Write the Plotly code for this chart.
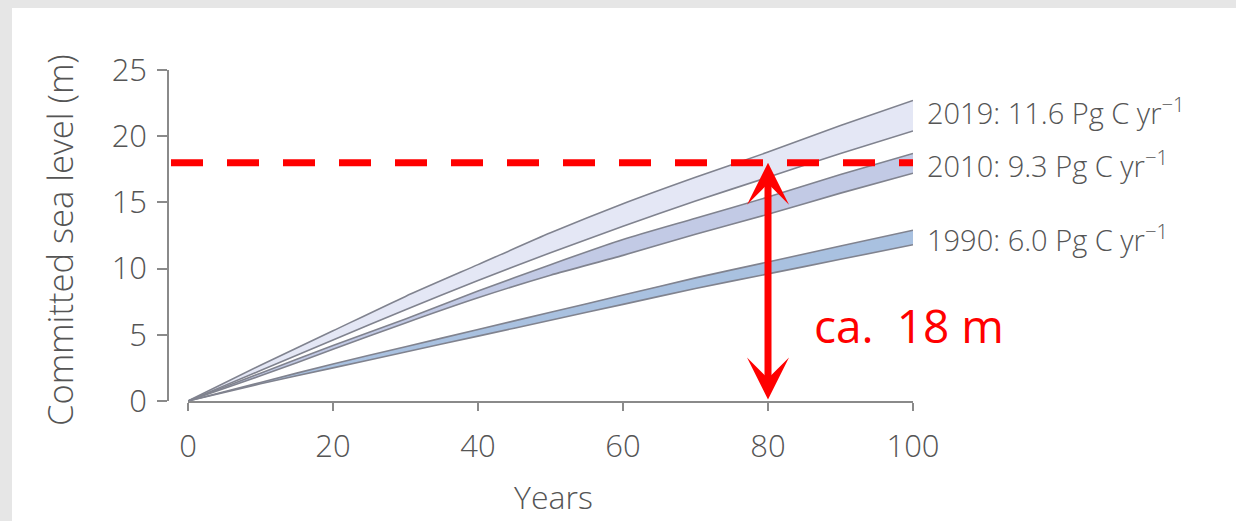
import plotly.graph_objects as go

# ---- data ----
years = [0, 10, 20, 30, 40, 50, 60, 70, 80, 90, 100]
s2019_upper = [0, 2.7, 5.3, 7.9, 10.3, 12.7, 14.9, 16.9, 18.8, 20.8, 22.7]
s2019_lower = [0, 2.3, 4.6, 6.9, 9.1, 11.2, 13.2, 15.1, 16.9, 18.7, 20.4]
s2010_upper = [0, 2.1, 4.2, 6.2, 8.3, 10.3, 12.2, 13.8, 15.4, 17.1, 18.7]
s2010_lower = [0, 1.9, 3.9, 5.9, 7.8, 9.5, 11.0, 12.6, 14.1, 15.7, 17.2]
s1990_upper = [0, 1.4, 2.8, 4.1, 5.4, 6.7, 8.0, 9.3, 10.5, 11.7, 12.9]
s1990_lower = [0, 1.3, 2.5, 3.7, 4.9, 6.1, 7.3, 8.5, 9.6, 10.7, 11.8]

band_labels = ["2019: 11.6 Pg C yr<sup>\u22121</sup>",
               "2010: 9.3 Pg C yr<sup>\u22121</sup>",
               "1990: 6.0 Pg C yr<sup>\u22121</sup>"]
band_label_y = [21.9, 17.9, 12.3]

threshold = 18
arrow_year = 80
x_ticks = [0, 20, 40, 60, 80, 100]
y_ticks = [0, 5, 10, 15, 20, 25]

# ---- figure ----
fig = go.Figure()
edge = "#80838f"
bands = [
    (s2019_upper, s2019_lower, "#e4e7f5"),
    (s2010_upper, s2010_lower, "#c2cae5"),
    (s1990_upper, s1990_lower, "#a9c1e0"),
]
for up, lo, fill in bands:
    fig.add_trace(go.Scatter(x=years, y=lo, mode="lines",
                             line=dict(color=edge, width=1.6, shape="spline", smoothing=0.6),
                             showlegend=False, hoverinfo="skip"))
    fig.add_trace(go.Scatter(x=years, y=up, mode="lines",
                             line=dict(color=edge, width=1.6, shape="spline", smoothing=0.6),
                             fill="tonexty", fillcolor=fill, showlegend=False, hoverinfo="skip"))

W, H = 1236, 521
L, R, T, B = 168, 323, 70, 120
pw = W - L - R
ph = H - T - B

def px_to_paper_x(px):
    return (px - L) / pw

def px_to_paper_y(py):
    return (H - B - py) / ph

tick_font = dict(family="Open Sans", size=31, color="#555555", weight=300)

fig.update_layout(
    width=W, height=H,
    margin=dict(l=L, r=R, t=T, b=B),
    paper_bgcolor="#e6e6e6",
    plot_bgcolor="rgba(0,0,0,0)",
    showlegend=False,
    xaxis=dict(domain=[px_to_paper_x(188), 1], range=[0, 100], tickvals=x_ticks,
               showgrid=False, zeroline=False, showline=True, linecolor="#8a8a8a", linewidth=1.5,
               ticks="outside", ticklen=8, tickwidth=1.5, tickcolor="#8a8a8a",
               tickfont=tick_font, ticklabelstandoff=9),
    yaxis=dict(anchor="free", position=0, range=[0, 25], tickvals=y_ticks,
               showgrid=False, zeroline=False, showline=True, linecolor="#8a8a8a", linewidth=1.5,
               ticks="outside", ticklen=10, tickwidth=1.5, tickcolor="#8a8a8a",
               tickfont=tick_font, ticklabelstandoff=4),
)

# white slide panel over grey background
fig.add_shape(type="rect", xref="paper", yref="paper", layer="below",
              x0=px_to_paper_x(12), x1=px_to_paper_x(1240),
              y0=px_to_paper_y(525), y1=px_to_paper_y(8),
              fillcolor="white", line=dict(width=0))

# red dashed threshold line
fig.add_shape(type="line", xref="paper", yref="y",
              x0=px_to_paper_x(171), x1=1, y0=threshold, y1=threshold,
              line=dict(color="#ff0000", width=7, dash="32px,24px"))

# double-headed arrow
fig.add_annotation(x=arrow_year, y=threshold, ax=arrow_year, ay=0, xref="x", yref="y",
                   axref="x", ayref="y", text="", showarrow=True,
                   arrowhead=3, startarrowhead=3, arrowside="end+start",
                   arrowsize=1, startarrowsize=1, arrowwidth=7, arrowcolor="#ff0000",
                   standoff=0, startstandoff=0)

fig.add_annotation(x=px_to_paper_x(812), y=px_to_paper_y(325), xref="paper", yref="paper",
                   text="ca.\u200218 m", showarrow=False, xanchor="left", yanchor="middle",
                   font=dict(family="Open Sans", size=46, color="#ff0000"))

for txt, yv in zip(band_labels, band_label_y):
    fig.add_annotation(x=px_to_paper_x(925), y=yv, xref="paper", yref="y", text=txt,
                       showarrow=False, xanchor="left", yanchor="middle",
                       font=dict(family="Open Sans", size=29, color="#555555", weight=300))

fig.add_annotation(x=px_to_paper_x(60), y=px_to_paper_y(240), xref="paper", yref="paper",
                   text="Committed sea level (m)", textangle=-90, showarrow=False,
                   xanchor="center", yanchor="middle",
                   font=dict(family="Open Sans", size=34.5, color="#555555", weight=300))
fig.add_annotation(x=px_to_paper_x(553), y=px_to_paper_y(496), xref="paper", yref="paper",
                   text="Years", showarrow=False, xanchor="center", yanchor="middle",
                   font=dict(family="Open Sans", size=32, color="#555555", weight=300))

fig.write_html("out.html", config={"displayModeBar": False},
               post_script="document.body.style.margin='0';document.body.style.overflow='hidden';")
